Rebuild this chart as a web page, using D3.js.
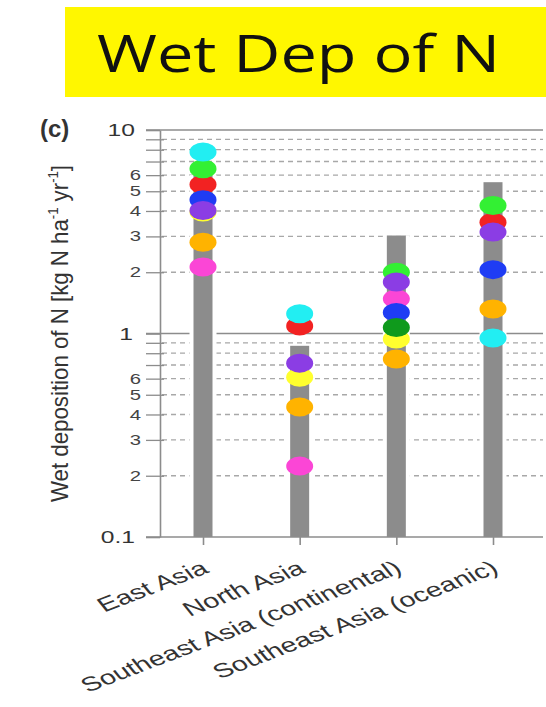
<!DOCTYPE html>
<html>
<head>
<meta charset="utf-8">
<script src="https://cdn.jsdelivr.net/npm/d3@7"></script>
<style>
  html, body { margin: 0; padding: 0; background: #fff; }
  svg { display: block; }
</style>
</head>
<body>
<svg id="chart" width="546" height="707"></svg>
<script>
// Regions on the x axis
const categories = ["East Asia", "North Asia", "Southeast Asia (continental)", "Southeast Asia (oceanic)"];
// Observed wet deposition (grey bars), kg N ha-1 yr-1
const observed = [6.0, 0.87, 3.03, 5.54];
// Model colours, in drawing order (later ones sit on top)
const seriesColors = ["#ffff2e", "#f22222", "#ffb300", "#fb46d6", "#1f3cf4", "#33f033", "#0f9a1c", "#8b3de4", "#22eef2"];
// Model values per region (null = no value for that region)
const seriesValues = [
  [3.95, 0.61, 0.94, null],   // yellow
  [5.40, 1.09, null, 3.52],   // red
  [2.81, 0.435, 0.75, 1.32],  // orange
  [2.12, 0.223, 1.48, null],  // magenta
  [4.54, null, 1.27, 2.06],   // blue
  [6.45, null, 2.00, 4.26],   // green
  [null, null, 1.07, null],   // dark green
  [4.02, 0.715, 1.79, 3.15],  // purple
  [7.80, 1.25, null, 0.95]    // cyan
];
// Axis ticks
const majorTicks = [0.1, 1, 10];
const minorTicks = [0.2, 0.3, 0.4, 0.5, 0.6, 0.7, 0.8, 0.9, 2, 3, 4, 5, 6, 7, 8, 9];
const minorLabelled = [0.2, 0.3, 0.4, 0.5, 0.6, 2, 3, 4, 5, 6];
const majorLabels = ["0.1", "1", "10"];

const svg = d3.select("#chart");
const FONT = "'Liberation Sans', Arial, Helvetica, sans-serif";
const SX = 1.45; // horizontal stretch of the plot lettering

// Title banner
svg.append("rect").attr("x", 65).attr("y", 7).attr("width", 481).attr("height", 90).attr("fill", "#fff700");
svg.append("text")
  .attr("x", 97).attr("y", 72)
  .attr("font-family", "'Open Sans', 'Noto Sans', sans-serif")
  .attr("font-size", 52)
  .attr("textLength", 403).attr("lengthAdjust", "spacingAndGlyphs")
  .attr("fill", "#111")
  .text("Wet Dep of N");

const plotLeft = 160, plotRight = 543, plotBottom = 537, plotTop = 130;
const y = d3.scaleLog().domain([0.1, 10]).range([plotBottom, plotTop]);
const x = d3.scalePoint().domain(categories).range([203, 493]);

const plot = svg.append("g");

// Dashed minor grid
plot.append("g").selectAll("line").data(minorTicks).join("line")
  .attr("x1", plotLeft + 2).attr("x2", plotRight)
  .attr("y1", d => y(d)).attr("y2", d => y(d))
  .attr("stroke", "#a8a8a8").attr("stroke-width", 1.3).attr("stroke-dasharray", "5,4");

// Solid lines at each decade
plot.append("g").selectAll("line").data(majorTicks).join("line")
  .attr("x1", 146).attr("x2", plotRight)
  .attr("y1", d => y(d)).attr("y2", d => y(d))
  .attr("stroke", "#8c8c8c").attr("stroke-width", 1.6);

// Y axis: minor ticks cross the axis line
const minorAxis = plot.append("g").attr("transform", `translate(${plotLeft},0)`)
  .call(d3.axisLeft(y).tickValues(minorTicks).tickSize(14).tickSizeOuter(0).tickFormat(""));
minorAxis.selectAll(".tick line").attr("x1", 4).attr("stroke", "#8c8c8c").attr("stroke-width", 1.3);
minorAxis.select(".domain").attr("stroke", "#8c8c8c").attr("stroke-width", 1.6);

const majorAxis = plot.append("g").attr("transform", `translate(${plotLeft},0)`)
  .call(d3.axisLeft(y).tickValues(majorTicks).tickSize(14).tickSizeOuter(0).tickFormat(""));
majorAxis.selectAll(".tick line").attr("stroke", "#8c8c8c").attr("stroke-width", 1.6);
majorAxis.select(".domain").remove();

// X axis ticks
const xAxis = plot.append("g").attr("transform", `translate(0,${plotBottom})`)
  .call(d3.axisBottom(x).tickSize(8).tickSizeOuter(0).tickFormat(""));
xAxis.select(".domain").remove();
xAxis.selectAll(".tick line").attr("stroke", "#8c8c8c").attr("stroke-width", 1.6);

// Y tick labels
plot.append("g").selectAll("text").data(majorTicks).join("text")
  .attr("transform", d => `translate(${d === 1 ? 133 : 135},${y(d)}) scale(${SX},1)`)
  .attr("dy", "0.36em").attr("text-anchor", "end")
  .attr("font-family", FONT).attr("font-size", 17).attr("fill", "#333")
  .text((d, i) => majorLabels[i]);

plot.append("g").selectAll("text").data(minorLabelled).join("text")
  .attr("transform", d => `translate(141,${y(d)}) scale(${SX},1)`)
  .attr("dy", "0.36em").attr("text-anchor", "end")
  .attr("font-family", FONT).attr("font-size", 14).attr("fill", "#444")
  .text(d => d < 1 ? Math.round(d * 10) : d);

// Bars, with a white margin that breaks the grid around them
const barW = 19;
plot.append("g").selectAll("rect").data(observed).join("rect")
  .attr("x", (d, i) => x(categories[i]) - barW / 2 - 4)
  .attr("width", barW + 8)
  .attr("y", d => y(d))
  .attr("height", d => plotBottom - 1 - y(d))
  .attr("fill", "#fff");
plot.append("g").selectAll("rect").data(observed).join("rect")
  .attr("x", (d, i) => x(categories[i]) - barW / 2)
  .attr("width", barW)
  .attr("y", d => y(d))
  .attr("height", d => plotBottom - y(d))
  .attr("fill", "#8c8c8c");

// Model markers
const dots = [];
seriesValues.forEach((vals, s) => {
  vals.forEach((v, i) => { if (v != null) dots.push({ c: categories[i], v, color: seriesColors[s] }); });
});
plot.append("g").selectAll("ellipse").data(dots).join("ellipse")
  .attr("cx", d => x(d.c)).attr("cy", d => y(d.v))
  .attr("rx", 13.5).attr("ry", 9.5)
  .attr("fill", d => d.color);

// Category labels
plot.append("g").selectAll("text").data(categories).join("text")
  .attr("transform", d => `translate(${x(d) + 7},572) scale(${SX},1) rotate(-29)`)
  .attr("text-anchor", "end")
  .attr("font-family", FONT).attr("font-size", 20).attr("fill", "#333")
  .text(d => d);

// Y axis title
const yt = svg.append("text")
  .attr("transform", `translate(68,333.5) scale(${SX},1) rotate(-90)`)
  .attr("text-anchor", "middle")
  .attr("font-family", FONT).attr("font-size", 17).attr("fill", "#333")
  .attr("textLength", 337).attr("lengthAdjust", "spacingAndGlyphs");
yt.append("tspan").text("Wet deposition of N [kg N ha");
yt.append("tspan").attr("dy", -7).attr("font-size", 10).text("-1");
yt.append("tspan").attr("dy", 7).text(" yr");
yt.append("tspan").attr("dy", -7).attr("font-size", 10).text("-1");
yt.append("tspan").attr("dy", 7).text("]");

// Panel tag
svg.append("text").attr("x", 40).attr("y", 137)
  .attr("font-family", FONT).attr("font-size", 24).attr("font-weight", "bold").attr("fill", "#333")
  .text("(c)");
</script>
</body>
</html>
